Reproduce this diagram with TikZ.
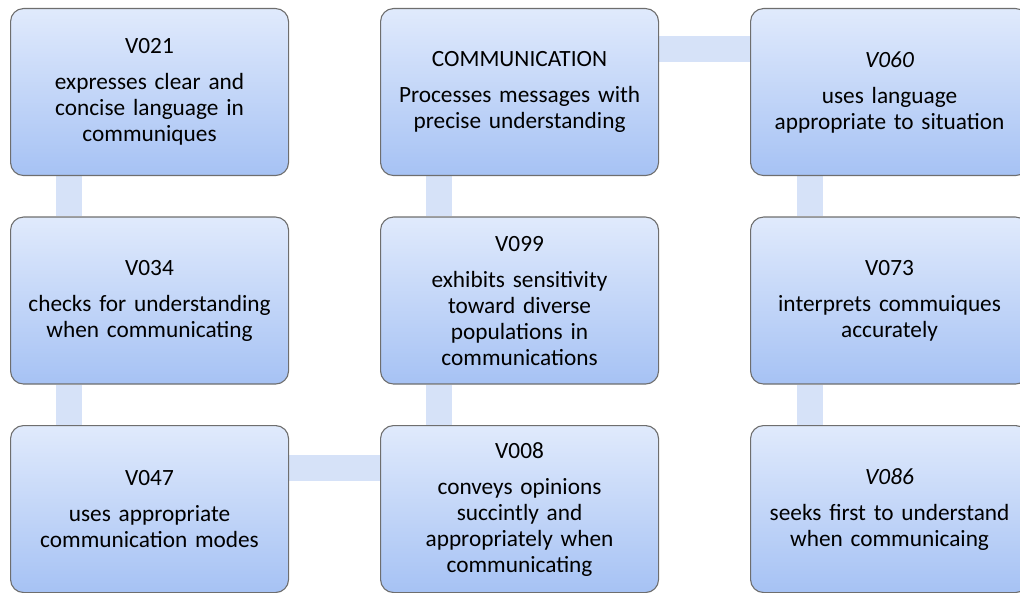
\documentclass[tikz,border=0pt]{standalone}
\usepackage{fontspec}
\setmainfont{Carlito}
\usetikzlibrary{calc}
\pgfdeclarelayer{background}
\pgfsetlayers{background,main}
\definecolor{boxtop}{HTML}{E0EAFC}
\definecolor{boxbot}{HTML}{A6C2F4}
\definecolor{boxedge}{HTML}{6E6E6E}
\definecolor{connfill}{HTML}{D6E2F8}
\tikzset{
  vbox/.style={rectangle, rounded corners=13pt, draw=boxedge, line width=1.1pt,
    top color=boxtop, bottom color=boxbot, minimum width=278pt, minimum height=167pt,
    text width=274pt, align=center, inner sep=0pt,
    font=\fontsize{23.3}{26}\selectfont, anchor=north west},
  conn/.style={line width=26pt, draw=connfill},
}
\begin{document}
\begin{tikzpicture}[x=1pt,y=-1pt]
\useasboundingbox (0,0) rectangle (1020,593);
\clip (0,0) rectangle (1020,593);
\node[vbox] (v021) at (10,8) {V021\\[10pt]expresses clear and\\concise language in\\communiques};
\node[vbox] (v034) at (10,216.5) {V034\\[10pt]checks for understanding\\when communicating};
\node[vbox] (v047) at (10,425) {V047\\[10pt]uses appropriate\\communication modes};
\node[vbox] (comm) at (380,8) {COMMUNICATION\\[10pt]Processes messages with\\precise understanding};
\node[vbox] (v099) at (380,216.5) {V099\\[10pt]exhibits sensitivity\\toward diverse\\populations in\\communications};
\node[vbox] (v008) at (380,425) {V008\\[10pt]conveys opinions\\succintly and\\appropriately when\\communicating};
\node[vbox] (v060) at (750,8) {\textit{V060}\\[10pt]uses language\\appropriate to situation};
\node[vbox] (v073) at (750,216.5) {V073\\[10pt]interprets commuiques\\accurately};
\node[vbox] (v086) at (750,425) {\textit{V086}\\[10pt]seeks first to understand\\when communicaing};
\begin{pgfonlayer}{background}
\draw[conn] ($(v021.south west)+(58.5,0)$) -- ($(v034.north west)+(58.5,0)$);
\draw[conn] ($(v034.south west)+(58.5,0)$) -- ($(v047.north west)+(58.5,0)$);
\draw[conn] ($(comm.south west)+(58.5,0)$) -- ($(v099.north west)+(58.5,0)$);
\draw[conn] ($(v099.south west)+(58.5,0)$) -- ($(v008.north west)+(58.5,0)$);
\draw[conn] ($(v060.south west)+(59.5,0)$) -- ($(v073.north west)+(59.5,0)$);
\draw[conn] ($(v073.south west)+(59.5,0)$) -- ($(v086.north west)+(59.5,0)$);
\draw[conn] ($(comm.north east)+(0,41.5)$) -- ($(v060.north west)+(0,41.5)$);
\draw[conn] ($(v047.north east)+(0,42.5)$) -- ($(v008.north west)+(0,42.5)$);
\end{pgfonlayer}
\end{tikzpicture}
\end{document}
